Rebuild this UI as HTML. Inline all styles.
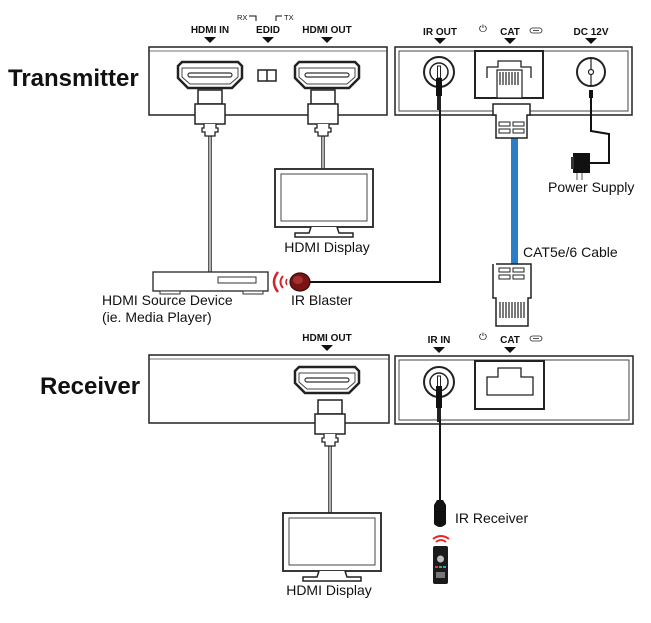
<!DOCTYPE html>
<html><head><meta charset="utf-8"><style>
html,body{margin:0;padding:0;background:#fff}
svg{display:block}
text{font-family:"Liberation Sans",Arial,sans-serif;fill:#111}
</style></head><body>
<svg width="651" height="623" viewBox="0 0 651 623" xmlns="http://www.w3.org/2000/svg">
<defs>
<g id="hdmiport">
<path d="M-32,-10 L-28,-14 L28,-14 L32,-10 L32,2 L22,12 L-22,12 L-32,2 Z" fill="#fff" stroke="#222" stroke-width="2.5"/>
<path d="M-28,-8 L28,-8 L28,1 L20,8 L-20,8 L-28,1 Z" fill="none" stroke="#444" stroke-width="1"/>
<rect x="-22" y="-3" width="44" height="4" rx="2" fill="none" stroke="#333" stroke-width="1.2"/>
</g>
<g id="hdmiplug">
<rect x="-12" y="0" width="24" height="14" fill="#fff" stroke="#222" stroke-width="1.5"/>
<rect x="-15" y="14" width="30" height="20" fill="#fff" stroke="#222" stroke-width="1.5"/>
<path d="M-6,34 L-6,38 L-8,38 L-8,42 L-5,42 L-5,46 L5,46 L5,42 L8,42 L8,38 L6,38 L6,34" fill="#fff" stroke="#222" stroke-width="1.3"/>
</g>
<g id="jack">
<circle r="15" fill="#fff" stroke="#222" stroke-width="2"/>
<circle r="9" fill="#fff" stroke="#222" stroke-width="1.5"/>
<rect x="-1.5" y="-6" width="3" height="12" fill="#fff" stroke="#222" stroke-width="1"/>
</g>
<g id="tv">
<rect x="0" y="0" width="98" height="58" fill="#fff" stroke="#222" stroke-width="1.8"/>
<rect x="6" y="5" width="86" height="47" fill="#fff" stroke="#444" stroke-width="1"/>
<path d="M36,58 L34,64 L20,64 L20,68 L78,68 L78,64 L64,64 L62,58" fill="#fff" stroke="#222" stroke-width="1.5"/>
</g>
<path id="tri" d="M-6,0 L6,0 L0,6 Z" fill="#111"/>
</defs>

<!-- Labels -->
<text x="8" y="86" font-size="24" font-weight="bold">Transmitter</text>
<text x="40" y="394" font-size="24" font-weight="bold">Receiver</text>

<!-- TX top labels -->
<text x="210" y="33" font-size="10" text-anchor="middle" font-weight="bold">HDMI IN</text>
<use href="#tri" x="210" y="37"/>
<text x="268" y="33" font-size="10" text-anchor="middle" font-weight="bold">EDID</text>
<use href="#tri" x="268" y="37"/>
<text x="237" y="20" font-size="7.5">RX</text>
<path d="M249,16 L256,16 L256,21" fill="none" stroke="#111" stroke-width="1"/>
<path d="M276,21 L276,16 L282,16" fill="none" stroke="#111" stroke-width="1"/>
<text x="284" y="20" font-size="7.5">TX</text>
<text x="327" y="33" font-size="10" text-anchor="middle" font-weight="bold">HDMI OUT</text>
<use href="#tri" x="327" y="37"/>
<text x="440" y="35" font-size="10" text-anchor="middle" font-weight="bold">IR OUT</text>
<use href="#tri" x="440" y="38"/>
<text x="483" y="32" font-size="10" text-anchor="middle">⏻</text>
<text x="510" y="35" font-size="10" text-anchor="middle" font-weight="bold">CAT</text>
<use href="#tri" x="510" y="38"/>
<rect x="530" y="28" width="12" height="5" rx="2.5" fill="none" stroke="#222" stroke-width="0.8"/>
<line x1="533" y1="30.5" x2="539" y2="30.5" stroke="#222" stroke-width="0.8"/>
<text x="591" y="35" font-size="10" text-anchor="middle" font-weight="bold">DC 12V</text>
<use href="#tri" x="591" y="38"/>

<!-- TX boxes -->
<rect x="149" y="47" width="238" height="68" fill="#fff" stroke="#222" stroke-width="1.5"/>
<line x1="149" y1="51" x2="387" y2="51" stroke="#444" stroke-width="0.8"/>
<rect x="395" y="47" width="237" height="68" fill="#fff" stroke="#222" stroke-width="1.5"/>
<rect x="399" y="51" width="229" height="60" fill="none" stroke="#444" stroke-width="1"/>

<use href="#hdmiport" x="210" y="76"/>
<use href="#hdmiport" x="327" y="76"/>
<rect x="258" y="70" width="18" height="11" fill="#fff" stroke="#222" stroke-width="1.5"/>
<line x1="267" y1="70" x2="267" y2="81" stroke="#222" stroke-width="1.5"/>

<!-- HDMI cables TX -->
<line x1="210" y1="134" x2="210" y2="272" stroke="#222" stroke-width="3.5"/>
<line x1="210" y1="134" x2="210" y2="272" stroke="#fff" stroke-width="1.3"/>
<line x1="323" y1="134" x2="323" y2="168" stroke="#222" stroke-width="3.5"/>
<line x1="323" y1="134" x2="323" y2="168" stroke="#fff" stroke-width="1.3"/>
<use href="#hdmiplug" x="210" y="90"/>
<use href="#hdmiplug" x="323" y="90"/>

<use href="#tv" x="275" y="169"/>
<text x="327" y="252" font-size="14" text-anchor="middle">HDMI Display</text>

<!-- Source device -->
<rect x="153" y="272" width="115" height="19" fill="#fff" stroke="#222" stroke-width="1.3"/>
<rect x="218" y="277" width="38" height="6" fill="#fff" stroke="#333" stroke-width="1"/>
<rect x="160" y="291" width="20" height="3" fill="#fff" stroke="#333" stroke-width="1"/>
<rect x="243" y="291" width="20" height="3" fill="#fff" stroke="#333" stroke-width="1"/>
<text x="102" y="305" font-size="14">HDMI Source Device</text>
<text x="102" y="322" font-size="14">(ie. Media Player)</text>

<!-- IR blaster waves -->
<path d="M278,272 Q270,282 278,292" fill="none" stroke="#d8222a" stroke-width="2.5"/>
<path d="M283,276 Q278,282 283,288" fill="none" stroke="#d8222a" stroke-width="2"/>
<path d="M287,279 Q285,282 287,285" fill="none" stroke="#d8222a" stroke-width="1.6"/>
<ellipse cx="300" cy="282" rx="10" ry="9" fill="#7a1414" stroke="#3a0a0a" stroke-width="1.2"/>
<ellipse cx="298" cy="280" rx="5" ry="4" fill="#a53030"/>
<text x="291" y="305" font-size="14">IR Blaster</text>

<!-- IR out cable -->
<path d="M310,282 L440,282 L440,90" fill="none" stroke="#111" stroke-width="2"/>
<use href="#jack" x="439" y="72"/>
<rect x="436" y="78" width="6" height="18" fill="#111"/>
<rect x="437" y="96" width="4" height="14" fill="#222"/>

<!-- CAT TX -->
<rect x="475" y="51" width="68" height="47" fill="#fff" stroke="#222" stroke-width="2"/>
<path d="M487,78 L487,67 L498,67 L498,61 L521,61 L521,67 L531,67 L531,78" fill="none" stroke="#222" stroke-width="1.3"/>
<rect x="497" y="70" width="25" height="28" fill="#fff" stroke="#222" stroke-width="1.2"/>
<g stroke="#222" stroke-width="1.2">
<line x1="500" y1="72" x2="500" y2="85"/><line x1="503" y1="72" x2="503" y2="85"/><line x1="506" y1="72" x2="506" y2="85"/><line x1="509" y1="72" x2="509" y2="85"/><line x1="512" y1="72" x2="512" y2="85"/><line x1="515" y1="72" x2="515" y2="85"/><line x1="518" y1="72" x2="518" y2="85"/>
</g>
<rect x="511" y="138" width="7" height="126" fill="#2b7dc8"/>
<path d="M493,104 L530,104 L530,115 L527,115 L527,138 L496,138 L496,115 L493,115 Z" fill="#fff" stroke="#222" stroke-width="1.5"/>
<rect x="499" y="122" width="11" height="4" fill="none" stroke="#222" stroke-width="1"/>
<rect x="513" y="122" width="11" height="4" fill="none" stroke="#222" stroke-width="1"/>
<rect x="499" y="129" width="11" height="4" fill="none" stroke="#222" stroke-width="1"/>
<rect x="513" y="129" width="11" height="4" fill="none" stroke="#222" stroke-width="1"/>

<!-- lower CAT connector -->
<path d="M496,264 L531,264 L531,298 L528,298 L528,326 L496,326 L496,298 L493,298 L493,264" fill="#fff" stroke="#222" stroke-width="1.5"/>
<rect x="499" y="268" width="11" height="4" fill="none" stroke="#222" stroke-width="1"/>
<rect x="513" y="268" width="11" height="4" fill="none" stroke="#222" stroke-width="1"/>
<rect x="499" y="275" width="11" height="4" fill="none" stroke="#222" stroke-width="1"/>
<rect x="513" y="275" width="11" height="4" fill="none" stroke="#222" stroke-width="1"/>
<g stroke="#222" stroke-width="1.2">
<line x1="500" y1="302" x2="500" y2="318"/><line x1="503" y1="302" x2="503" y2="318"/><line x1="506" y1="302" x2="506" y2="318"/><line x1="509" y1="302" x2="509" y2="318"/><line x1="512" y1="302" x2="512" y2="318"/><line x1="515" y1="302" x2="515" y2="318"/><line x1="518" y1="302" x2="518" y2="318"/><line x1="521" y1="302" x2="521" y2="318"/><line x1="524" y1="302" x2="524" y2="318"/>
</g>
<text x="523" y="257" font-size="14">CAT5e/6 Cable</text>

<!-- DC -->
<circle cx="591" cy="72" r="14" fill="#fff" stroke="#222" stroke-width="2"/>
<line x1="591" y1="59" x2="591" y2="85" stroke="#222" stroke-width="1.2"/>
<circle cx="591" cy="72" r="2.5" fill="#fff" stroke="#222" stroke-width="1.2"/>
<rect x="589" y="90" width="4" height="8" fill="#111"/>
<path d="M591,98 L591,131 L609,134 L609,163 L590,163" fill="none" stroke="#111" stroke-width="2"/>
<rect x="573" y="153" width="17" height="20" fill="#111"/>
<rect x="571" y="157" width="3" height="12" fill="#333"/>
<line x1="577" y1="173" x2="577" y2="180" stroke="#555" stroke-width="1"/>
<line x1="582" y1="173" x2="582" y2="180" stroke="#555" stroke-width="1"/>
<text x="548" y="192" font-size="14">Power Supply</text>

<!-- RX labels -->
<text x="327" y="341" font-size="10" text-anchor="middle" font-weight="bold">HDMI OUT</text>
<use href="#tri" x="327" y="345"/>
<text x="439" y="343" font-size="10" text-anchor="middle" font-weight="bold">IR IN</text>
<use href="#tri" x="439" y="347"/>
<text x="483" y="340" font-size="10" text-anchor="middle">⏻</text>
<text x="510" y="343" font-size="10" text-anchor="middle" font-weight="bold">CAT</text>
<use href="#tri" x="510" y="347"/>
<rect x="530" y="336" width="12" height="5" rx="2.5" fill="none" stroke="#222" stroke-width="0.8"/>
<line x1="533" y1="338.5" x2="539" y2="338.5" stroke="#222" stroke-width="0.8"/>

<!-- RX boxes -->
<rect x="149" y="355" width="240" height="68" fill="#fff" stroke="#222" stroke-width="1.5"/>
<line x1="149" y1="359" x2="389" y2="359" stroke="#444" stroke-width="0.8"/>
<rect x="395" y="356" width="238" height="68" fill="#fff" stroke="#222" stroke-width="1.5"/>
<rect x="399" y="360" width="230" height="60" fill="none" stroke="#444" stroke-width="1"/>
<use href="#hdmiport" x="327" y="381"/>
<line x1="330" y1="444" x2="330" y2="513" stroke="#222" stroke-width="3.5"/>
<line x1="330" y1="444" x2="330" y2="513" stroke="#fff" stroke-width="1.3"/>
<use href="#hdmiplug" x="330" y="400"/>
<use href="#tv" x="283" y="513"/>
<text x="329" y="595" font-size="14" text-anchor="middle">HDMI Display</text>

<use href="#jack" x="439" y="382"/>
<rect x="436" y="386" width="6" height="22" fill="#111"/>
<rect x="437" y="408" width="4" height="14" fill="#222"/>
<line x1="440" y1="420" x2="440" y2="502" stroke="#111" stroke-width="2"/>
<path d="M437,500 L443,500 L446,505 L446,524 Q440,530 434,524 L434,505 Z" fill="#111"/>
<text x="455" y="523" font-size="14">IR Receiver</text>

<rect x="475" y="361" width="69" height="48" fill="#fff" stroke="#222" stroke-width="2"/>
<path d="M487,395 L487,377 L498,377 L498,368 L521,368 L521,377 L533,377 L533,395 Z" fill="none" stroke="#222" stroke-width="1.3"/>

<!-- remote -->
<path d="M433,539 Q441,533 449,539" fill="none" stroke="#e22" stroke-width="2"/>
<path d="M436,542 Q441,538 446,542" fill="none" stroke="#e22" stroke-width="1.8"/>
<rect x="433" y="546" width="15" height="38" rx="2" fill="#1a1a1a"/>
<circle cx="440.5" cy="559" r="3.5" fill="#bbb"/>
<rect x="435" y="566" width="3" height="2" fill="#e33"/><rect x="439" y="566" width="3" height="2" fill="#3b3"/><rect x="443" y="566" width="3" height="2" fill="#39e"/>
<rect x="436" y="572" width="9" height="6" fill="#777"/>
</svg>
</body></html>
